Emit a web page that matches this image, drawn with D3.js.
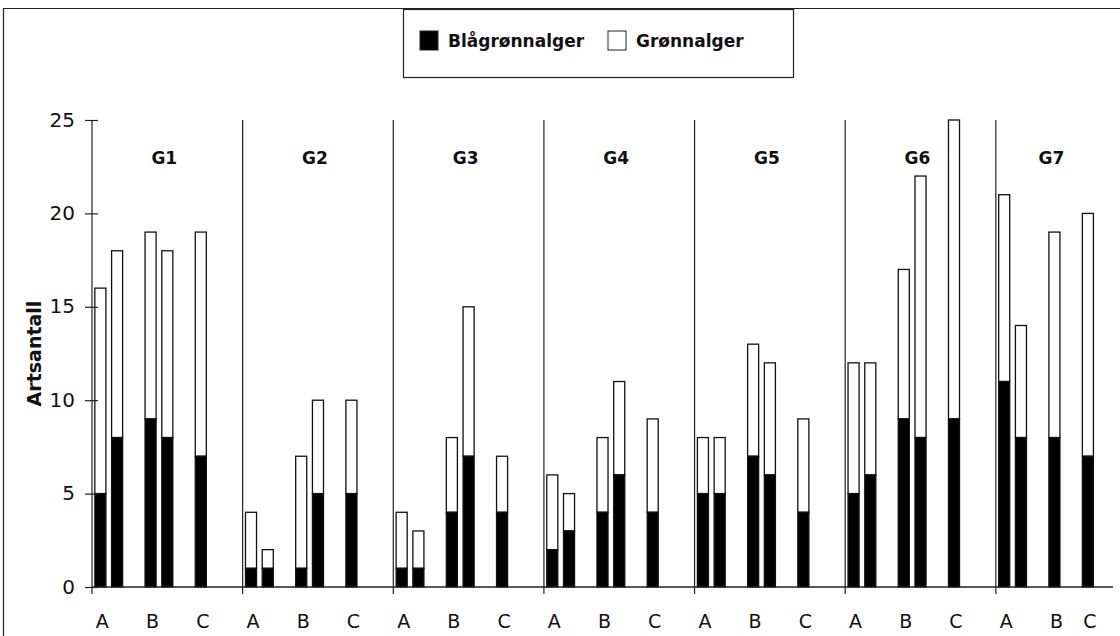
<!DOCTYPE html>
<html><head><meta charset="utf-8">
<script src="https://cdn.jsdelivr.net/npm/d3@7"></script>
<style>
html,body{margin:0;padding:0;background:#fff;}
svg{display:block;font-family:"DejaVu Sans",sans-serif;}
</style></head>
<body><svg id="c" width="1120" height="636"></svg>
<script>
// ---- data ----
const groups = ["G1","G2","G3","G4","G5","G6","G7"];
const slotOrder = ["A1","A2","","B1","B2","","C1","C2",""];
const slotOrderLast = ["A1","A2","","B1","","C1",""];
const sampleLabels = {A1:"A", B1:"B", C1:"C"};
const seriesNames = ["Blågrønnalger","Grønnalger"];
// values per group, order A1,A2,B1,B2,C1,C2
const blagronnalger = [
  [5,8,9,8,7,null],
  [1,1,1,5,5,null],
  [1,1,4,7,4,null],
  [2,3,4,6,4,null],
  [5,5,7,6,4,null],
  [5,6,9,8,9,null],
  [11,8,8,null,7,null]
];
const gronnalger = [
  [11,10,10,10,12,null],
  [3,1,6,5,5,null],
  [3,2,4,8,3,null],
  [4,2,4,5,5,null],
  [3,3,6,6,5,null],
  [7,6,8,14,16,null],
  [10,6,11,null,13,null]
];
const barKeys = ["A1","A2","B1","B2","C1","C2"];
const yTicks = [0,5,10,15,20,25];
const yTitle = "Artsantall";

// ---- build ----
const svg = d3.select("#c");
const W = 1120, H = 636;
const plot = {left:92, right:1113, top:120, bottom:587};

const slots = [];
groups.forEach((g,gi)=>{
  const order = gi===groups.length-1 ? slotOrderLast : slotOrder;
  order.forEach((k,i)=>slots.push({id:g+"|"+i, g, gi, key:k, first:i===0}));
});
const x = d3.scaleBand().domain(slots.map(s=>s.id)).range([plot.left, plot.right]).paddingInner(0.34).paddingOuter(0.17);
const xs = d3.scaleBand().domain(slots.map(s=>s.id)).range([plot.left, plot.right]);
const y = d3.scaleLinear().domain([0,25]).range([plot.bottom, plot.top]);

// frame
svg.append("line").attr("x1",3.5).attr("x2",3.5).attr("y1",8).attr("y2",H).attr("stroke","#222").attr("stroke-width",1.2);
svg.append("line").attr("x1",3).attr("x2",W).attr("y1",8.5).attr("y2",8.5).attr("stroke","#222").attr("stroke-width",1.2);

// bars
const bars = [];
slots.forEach(s=>{
  const bi = barKeys.indexOf(s.key);
  if(bi<0) return;
  const b = blagronnalger[s.gi][bi], gr = gronnalger[s.gi][bi];
  if(b==null) return;
  bars.push({id:s.id, b, gr});
});
const bw = x.bandwidth();
const gb = svg.append("g");
bars.forEach(d=>{
  gb.append("rect").attr("x",x(d.id)).attr("width",bw)
    .attr("y",y(d.b+d.gr)).attr("height",y(d.b)-y(d.b+d.gr))
    .attr("fill","#fff").attr("stroke","#111").attr("stroke-width",1.3);
  gb.append("rect").attr("x",x(d.id)).attr("width",bw)
    .attr("y",y(d.b)).attr("height",y(0)-y(d.b))
    .attr("fill","#000").attr("stroke","#111").attr("stroke-width",1.3);
});

// group separators and ticks
const firsts = slots.filter(s=>s.first);
firsts.forEach(s=>{
  svg.append("line").attr("x1",xs(s.id)).attr("x2",xs(s.id))
    .attr("y1",y(25)).attr("y2",y(0)+7).attr("stroke","#222").attr("stroke-width",1.2);
});
// x axis line
svg.append("line").attr("x1",plot.left).attr("x2",plot.right).attr("y1",y(0)).attr("y2",y(0)).attr("stroke","#222").attr("stroke-width",1.3);

// y axis ticks
const ya = svg.append("g").attr("transform",`translate(${plot.left},0)`)
  .call(d3.axisLeft(y).tickValues(yTicks).tickSize(7).tickPadding(10));
ya.select(".domain").remove();
ya.selectAll(".tick line").attr("x2",-7).attr("x1",6).attr("stroke","#222").attr("stroke-width",1.2);
ya.selectAll(".tick text").attr("font-size",20).attr("font-family","DejaVu Sans, sans-serif").attr("fill","#111").attr("dy","0.3em");

// x labels
slots.filter(s=>sampleLabels[s.key]).forEach(s=>{
  svg.append("text").attr("x",x(s.id)+bw/2+2).attr("y",y(0)+41)
    .attr("text-anchor","middle").attr("font-size",19).attr("fill","#111").text(sampleLabels[s.key]);
});

// group labels
groups.forEach((g,gi)=>{
  const gs = slots.filter(s=>s.gi===gi);
  const x0 = xs(gs[0].id), x1 = xs(gs[gs.length-1].id)+xs.bandwidth();
  svg.append("text").attr("x",(x0+x1)/2-3).attr("y",164).attr("text-anchor","middle")
    .attr("font-size",17).attr("font-weight","bold").attr("fill","#111").text(g);
});

// y title
svg.append("text").attr("transform",`translate(41,${(plot.top+plot.bottom)/2}) rotate(-90)`)
  .attr("text-anchor","middle").attr("font-size",19).attr("font-weight","bold").attr("fill","#111").text(yTitle);

// legend
const lg = svg.append("g");
lg.append("rect").attr("x",403.5).attr("y",9.5).attr("width",390).attr("height",68).attr("fill","#fff").attr("stroke","#222").attr("stroke-width",1.2);
const items = [{n:seriesNames[0], f:"#000", x:420},{n:seriesNames[1], f:"#fff", x:608}];
items.forEach(it=>{
  lg.append("rect").attr("x",it.x).attr("y",31).attr("width",18).attr("height",19).attr("fill",it.f).attr("stroke","#222").attr("stroke-width",1);
  lg.append("text").attr("x",it.x+28).attr("y",47).attr("font-size",17).attr("font-weight","bold").attr("fill","#111").text(it.n);
});
</script></body></html>
